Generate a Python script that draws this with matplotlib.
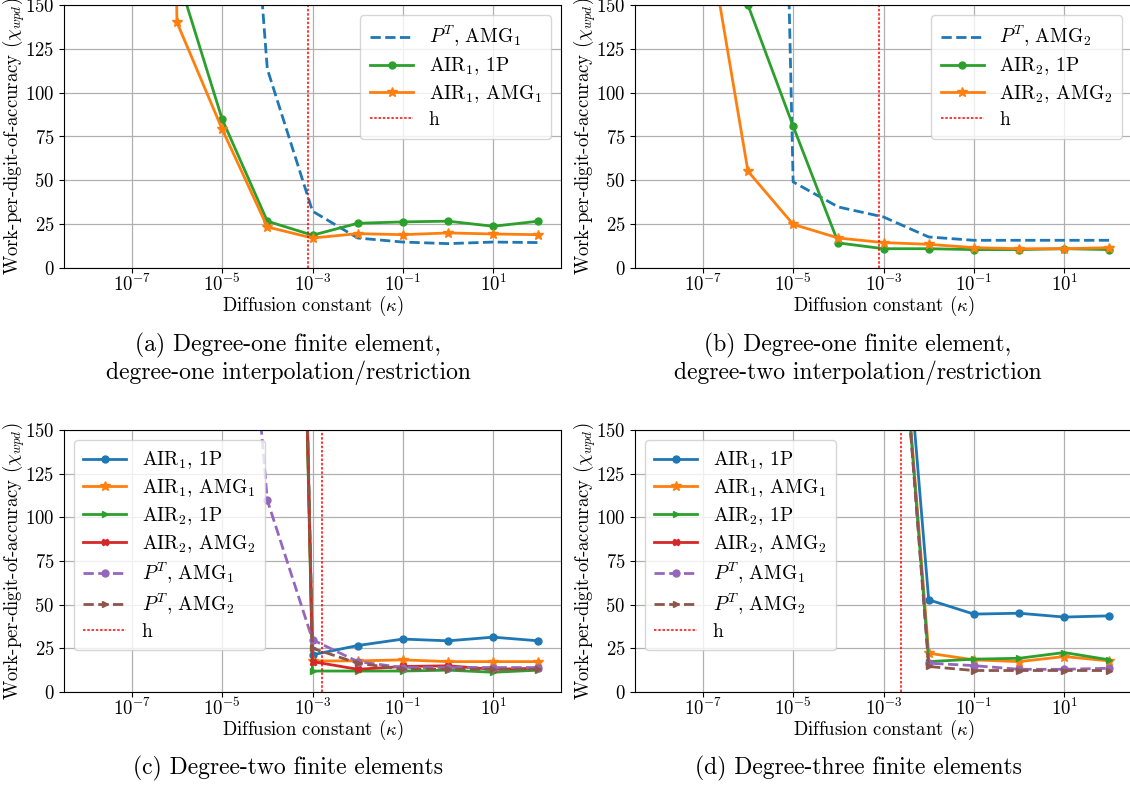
import numpy as np
import matplotlib
matplotlib.use("Agg")
import matplotlib.pyplot as plt
from matplotlib.ticker import NullFormatter

plt.rcParams["font.family"] = "serif"
plt.rcParams["font.serif"] = ["cmr10"]
plt.rcParams["mathtext.fontset"] = "cm"
plt.rcParams["axes.formatter.use_mathtext"] = True

nan = np.nan

# diffusion constants (kappa)
kappa = [1e-8, 1e-7, 1e-6, 1e-5, 1e-4, 1e-3, 1e-2, 1e-1, 1e0, 1e1, 1e2]
major_ticks = [1e-7, 1e-5, 1e-3, 1e-1, 1e1]

# (a) degree-one FE, degree-one interpolation
a_pt_amg1 = [nan, nan, nan, 450, 113.5, 32.4, 17.1, 14.8, 13.9, 14.8, 14.5]
a_air1_1p = [nan, nan, 168, 84.9, 26.7, 18.7, 25.5, 26.3, 26.7, 23.8, 26.7]
a_air1_amg1 = [nan, 2000, 140.1, 79.2, 23.4, 17.1, 19.6, 19.0, 20.0, 19.4, 19.0]
a_h = 8.1e-4

# (b) degree-one FE, degree-two interpolation
b_pt_amg2 = [nan, nan, 1200, 49.1, 34.8, 29.1, 17.7, 15.8, 15.8, 15.8, 15.8]
b_air2_1p = [nan, nan, 150, 80.9, 14.3, 11.0, 11.0, 10.5, 10.5, 11.0, 10.5]
b_air2_amg2 = [nan, 208, 55.2, 24.9, 17.1, 14.5, 13.5, 11.6, 11.0, 11.0, 11.6]
b_h = 7.8e-4

# (c) degree-two FE
c_air1_1p = [nan, nan, nan, nan, 1200, 21.3, 26.6, 30.3, 29.3, 31.4, 29.3]
c_air1_amg1 = [nan, nan, nan, nan, 1200, 17.8, 17.8, 18.4, 17.4, 17.4, 17.4]
c_air2_1p = [nan, nan, nan, nan, 1200, 12.0, 12.0, 12.0, 12.5, 11.3, 12.5]
c_air2_amg2 = [nan, nan, nan, nan, 1200, 17.4, 13.0, 14.6, 15.0, 13.0, 13.6]
c_pt_amg1 = [nan, nan, nan, 414, 109.8, 29.9, 17.4, 14.0, 14.0, 14.0, 14.0]
c_pt_amg2 = [nan, nan, nan, nan, 1200, 25.0, 16.5, 13.0, 13.0, 13.0, 13.0]
c_h = 1.6e-3

# (d) degree-three FE (no AIR2/AMG2 data shown)
d_air1_1p = [nan, nan, nan, nan, nan, 366, 52.8, 44.6, 45.1, 42.9, 43.6]
d_air1_amg1 = [nan, nan, nan, nan, nan, 350, 22.2, 18.4, 17.4, 20.3, 17.8]
d_air2_1p = [nan, nan, nan, nan, nan, 350, 17.4, 18.8, 19.3, 22.6, 18.4]
d_air2_amg2 = [nan] * 11
d_pt_amg1 = [nan, nan, nan, nan, nan, 350, 16.5, 15.1, 13.0, 13.0, 13.6]
d_pt_amg2 = [nan, nan, nan, nan, nan, 350, 14.6, 12.3, 12.3, 12.3, 12.3]
d_h = 2.5e-3

W, H = 1130, 787
fig = plt.figure(figsize=(W / 100, H / 100), dpi=100)


def make_axes(left, top, right, bottom):
    """axes from pixel box of the reference"""
    return fig.add_axes([left / W, 1 - bottom / H, (right - left) / W, (bottom - top) / H])


def style(ax, h, loc):
    ax.axvline(h, color="r", linestyle=(0, (1.6, 1.2)), lw=1.1, label="h")
    ax.set_xscale("log")
    ax.set_xlim(10 ** -8.5, 10 ** 2.5)
    ax.set_xticks(major_ticks)
    ax.xaxis.set_minor_formatter(NullFormatter())
    ax.set_ylim(0, 150)
    ax.set_yticks([0, 25, 50, 75, 100, 125, 150])
    ax.grid(True, which="major", color="#b0b0b0", lw=0.9)
    ax.tick_params(labelsize=13.5)
    ax.tick_params(axis="x", pad=1)
    ax.set_xlabel(r"Diffusion constant ($\kappa$)", fontsize=13.5, labelpad=-1)
    ax.set_ylabel(r"Work-per-digit-of-accuracy ($\chi_{wpd}$)", fontsize=13.5)
    ax.yaxis.set_label_coords(-0.075, 0.5)
    ax.legend(loc=loc, fontsize=14, labelspacing=0.31, borderpad=0.5,
              handlelength=2.2)


lw = 2
ms = 5

# panel a
ax = make_axes(64, 5, 561, 268)
ax.plot(kappa, a_pt_amg1, "--", color="C0", lw=lw, label=r"$P^T$, AMG$_1$")
ax.plot(kappa, a_air1_1p, "-o", color="C2", lw=lw, ms=ms, label=r"AIR$_1$, 1P")
ax.plot(kappa, a_air1_amg1, "-*", color="C1", lw=lw, ms=ms + 2, label=r"AIR$_1$, AMG$_1$")
style(ax, a_h, "upper right")

# panel b
ax = make_axes(635, 5, 1132, 268)
ax.plot(kappa, b_pt_amg2, "--", color="C0", lw=lw, label=r"$P^T$, AMG$_2$")
ax.plot(kappa, b_air2_1p, "-o", color="C2", lw=lw, ms=ms, label=r"AIR$_2$, 1P")
ax.plot(kappa, b_air2_amg2, "-*", color="C1", lw=lw, ms=ms + 2, label=r"AIR$_2$, AMG$_2$")
style(ax, b_h, "upper right")


def six_lines(ax, s):
    ax.plot(kappa, s[0], "-o", color="C0", lw=lw, ms=ms, label=r"AIR$_1$, 1P")
    ax.plot(kappa, s[1], "-*", color="C1", lw=lw, ms=ms + 2, label=r"AIR$_1$, AMG$_1$")
    ax.plot(kappa, s[2], "->", color="C2", lw=lw, ms=ms, label=r"AIR$_2$, 1P")
    ax.plot(kappa, s[3], "-X", color="C3", lw=lw, ms=ms, label=r"AIR$_2$, AMG$_2$")
    ax.plot(kappa, s[4], "--o", color="C4", lw=lw, ms=ms, label=r"$P^T$, AMG$_1$")
    ax.plot(kappa, s[5], "-->", color="C5", lw=lw, ms=ms, label=r"$P^T$, AMG$_2$")


# panel c
ax = make_axes(64, 430, 561, 692)
six_lines(ax, [c_air1_1p, c_air1_amg1, c_air2_1p, c_air2_amg2, c_pt_amg1, c_pt_amg2])
style(ax, c_h, "upper left")

# panel d
ax = make_axes(635, 430, 1132, 692)
six_lines(ax, [d_air1_1p, d_air1_amg1, d_air2_1p, d_air2_amg2, d_pt_amg1, d_pt_amg2])
style(ax, d_h, "upper left")

# sub-captions
cap = dict(ha="center", va="center", fontsize=17)
fig.text(288 / W, 1 - 345 / H, "(a) Degree-one finite element,", **cap)
fig.text(288 / W, 1 - 373 / H, "degree-one interpolation/restriction", **cap)
fig.text(858 / W, 1 - 345 / H, "(b) Degree-one finite element,", **cap)
fig.text(858 / W, 1 - 373 / H, "degree-two interpolation/restriction", **cap)
fig.text(288 / W, 1 - 768 / H, "(c) Degree-two finite elements", **cap)
fig.text(858 / W, 1 - 768 / H, "(d) Degree-three finite elements", **cap)

fig.savefig("out.png", dpi=100)
